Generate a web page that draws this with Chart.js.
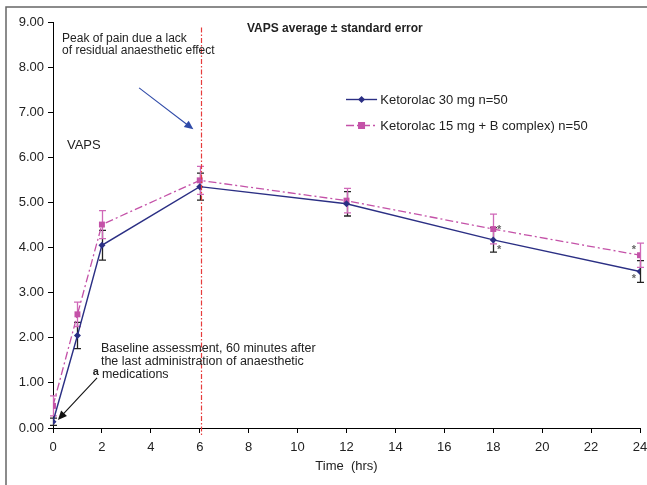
<!DOCTYPE html>
<html><head><meta charset="utf-8">
<script src="https://cdn.jsdelivr.net/npm/chart.js@4"></script>
<style>html,body{margin:0;padding:0;background:#fff;}</style>
</head><body>
<canvas id="c" width="647" height="485"></canvas>
<script>
// ---- data ----
const hours = [0, 1, 2, 6, 12, 18, 24];
const ketorolac30 = [0.14, 2.05, 4.05, 5.35, 4.97, 4.17, 3.47];
const ketorolac30Err = [0.08, 0.29, 0.33, 0.30, 0.27, 0.27, 0.24];
const ketorolac15B = [0.49, 2.52, 4.51, 5.49, 5.04, 4.41, 3.83];
const ketorolac15BErr = [0.22, 0.27, 0.31, 0.31, 0.27, 0.33, 0.27];
const seriesLabels = ['Ketorolac 30 mg n=50', 'Ketorolac 15 mg + B complex) n=50'];
const yTicks = [0, 1, 2, 3, 4, 5, 6, 7, 8, 9];
const xTicks = [0, 2, 4, 6, 8, 10, 12, 14, 16, 18, 20, 22, 24];
const peakHour = 6.05;
const significantHours = [18, 24];

const FONT = "'Liberation Sans', Arial, sans-serif";
const BLUE = '#2b2f84';
const PINK = '#c452a8';
const PEAK_RED = 'rgb(230, 60, 60)';

function toPts(vals){ return hours.map((h,i)=>({x:h, y:vals[i]})); }

const overlay = {
  id: 'overlay',
  beforeDatasetsDraw(chart){
    const {ctx, scales:{x, y}} = chart;
    const px = v => x.getPixelForValue(v), py = v => y.getPixelForValue(v);
    ctx.save();
    // error bars
    const drawErr = (vals, errs, color) => {
      ctx.strokeStyle = color; ctx.lineWidth = 1.3;
      hours.forEach((h,i)=>{
        const cx = Math.round(px(h)) + 0.5;
        const t = py(vals[i] + errs[i]), b = py(vals[i] - errs[i]);
        ctx.beginPath();
        ctx.moveTo(cx, t); ctx.lineTo(cx, b);
        ctx.moveTo(cx - 3.5, t); ctx.lineTo(cx + 3.5, t);
        ctx.moveTo(cx - 3.5, b); ctx.lineTo(cx + 3.5, b);
        ctx.stroke();
      });
    };
    drawErr(ketorolac30, ketorolac30Err, '#222');
    drawErr(ketorolac15B, ketorolac15BErr, '#d068b8');
    ctx.restore();
  },
  afterDatasetsDraw(chart){
    const {ctx, scales:{x, y}} = chart;
    const px = v => x.getPixelForValue(v), py = v => y.getPixelForValue(v);
    ctx.save();
    // peak vertical line
    ctx.strokeStyle = PEAK_RED;
    ctx.lineWidth = 1.2;
    ctx.setLineDash([5, 2, 1.5, 2]);
    ctx.beginPath();
    const lx = Math.round(px(peakHour)) + 0.5;
    ctx.moveTo(lx, py(8.88));
    ctx.lineTo(lx, py(0) + 8);
    ctx.stroke();
    ctx.restore();
  },
  afterDraw(chart){
    const {ctx, scales:{x, y}} = chart;
    const px = v => x.getPixelForValue(v), py = v => y.getPixelForValue(v);
    ctx.save();
    // outer frame
    ctx.strokeStyle = '#666'; ctx.lineWidth = 1.5;
    ctx.strokeRect(6, 7, 660, 500);

    ctx.fillStyle = '#222';
    ctx.textBaseline = 'alphabetic';
    ctx.textAlign = 'left';
    // title
    ctx.font = 'bold 12px ' + FONT;
    ctx.fillText('VAPS average \u00b1 standard error', px(7.93), py(8.78));
    // peak annotation
    ctx.font = '12px ' + FONT;
    ctx.fillText('Peak of pain due a lack', px(0.37), py(8.56));
    ctx.fillText('of residual anaesthetic effect', px(0.37), py(8.28));
    // VAPS label
    ctx.font = '13px ' + FONT;
    ctx.fillText('VAPS', px(0.57), py(6.18));
    // baseline annotation
    ctx.font = '12.5px ' + FONT;
    ctx.fillText('Baseline assessment, 60 minutes after', px(1.96), py(1.68));
    ctx.fillText('the last administration of anaesthetic', px(1.96), py(1.39));
    ctx.fillText('medications', px(2.0), py(1.10));
    ctx.font = 'bold 11px ' + FONT;
    ctx.fillText('a', px(1.63), py(1.17));

    // arrows
    const arrow = (x1,y1,x2,y2,color) => {
      const X1=px(x1), Y1=py(y1), X2=px(x2), Y2=py(y2);
      const ang = Math.atan2(Y2-Y1, X2-X1);
      ctx.strokeStyle = color; ctx.fillStyle = color; ctx.lineWidth = 1.1;
      ctx.beginPath(); ctx.moveTo(X1,Y1); ctx.lineTo(X2 - 6*Math.cos(ang), Y2 - 6*Math.sin(ang)); ctx.stroke();
      ctx.beginPath();
      ctx.moveTo(X2, Y2);
      ctx.lineTo(X2 - 9*Math.cos(ang) + 4*Math.sin(ang), Y2 - 9*Math.sin(ang) - 4*Math.cos(ang));
      ctx.lineTo(X2 - 9*Math.cos(ang) - 4*Math.sin(ang), Y2 - 9*Math.sin(ang) + 4*Math.cos(ang));
      ctx.closePath(); ctx.fill();
    };
    arrow(3.52, 7.54, 5.74, 6.62, '#2f4aa8');
    arrow(1.8, 1.11, 0.2, 0.18, '#111');

    // significance stars
    ctx.fillStyle = '#666';
    ctx.font = 'bold 11px ' + FONT;
    ctx.textAlign = 'center'; ctx.textBaseline = 'middle';
    const i18 = hours.indexOf(significantHours[0]), i24 = hours.indexOf(significantHours[1]);
    ctx.fillText('*', px(18) + 6, py(ketorolac30[i18]) + 10);
    ctx.fillText('*', px(18) + 6, py(ketorolac15B[i18]) + 1);
    ctx.fillText('*', px(24) - 6, py(ketorolac15B[i24]) - 5);
    ctx.fillText('*', px(24) - 6, py(ketorolac30[i24]) + 8);

    // legend
    const ds = chart.data.datasets;
    const lx1 = px(11.98), lx2 = px(13.25), lmid = (lx1+lx2)/2;
    const rows = [py(7.30), py(6.72)];
    ds.forEach((d, k) => {
      const ry = Math.round(rows[k]) + 0.5;
      ctx.strokeStyle = d.borderColor; ctx.lineWidth = d.borderWidth;
      ctx.setLineDash(d.borderDash || []);
      ctx.beginPath(); ctx.moveTo(lx1, ry); ctx.lineTo(lx2, ry); ctx.stroke();
      ctx.setLineDash([]);
      ctx.fillStyle = d.backgroundColor;
      if (d.pointStyle === 'rectRot') {
        ctx.beginPath(); ctx.moveTo(lmid, ry-3.5); ctx.lineTo(lmid+3.5, ry); ctx.lineTo(lmid, ry+3.5); ctx.lineTo(lmid-3.5, ry); ctx.closePath(); ctx.fill();
      } else {
        ctx.fillRect(lmid-3.5, ry-3.5, 7, 7);
      }
      ctx.fillStyle = '#222';
      ctx.font = '13px ' + FONT;
      ctx.textAlign = 'left'; ctx.textBaseline = 'middle';
      ctx.fillText(seriesLabels[k], px(13.38), ry + 1);
    });
    ctx.restore();
  }
};

new Chart(document.getElementById('c'), {
  type: 'line',
  data: {
    datasets: [
      { label: seriesLabels[0], data: toPts(ketorolac30), borderColor: BLUE, backgroundColor: BLUE,
        borderWidth: 1.4, pointStyle: 'rectRot', pointRadius: 3.5, pointBorderWidth: 0, tension: 0 },
      { label: seriesLabels[1], data: toPts(ketorolac15B), borderColor: PINK, backgroundColor: PINK,
        borderWidth: 1.3, borderDash: [8, 3, 2, 3], pointStyle: 'rect', pointRadius: 4.2, pointBorderWidth: 0, tension: 0 }
    ]
  },
  options: {
    responsive: false, animation: false,
    layout: { padding: { top: 22, right: 7, left: 0, bottom: 0 } },
    plugins: { legend: { display: false }, tooltip: { enabled: false } },
    scales: {
      x: {
        type: 'linear', min: 0, max: 24,
        afterBuildTicks: s => { s.ticks = xTicks.map(v => ({ value: v })); },
        ticks: { color: '#222', font: { family: FONT, size: 13 }, padding: 7, maxRotation: 0, autoSkip: false },
        grid: { drawOnChartArea: false, tickLength: 5, color: '#000' },
        border: { color: '#000', width: 1 },
        title: { display: true, text: 'Time  (hrs)', color: '#222', font: { family: FONT, size: 13 }, padding: { top: 4, bottom: 11 } },
        afterFit: s => { s.height = 57; s.paddingRight = 0; s.paddingLeft = 0; }
      },
      y: {
        min: 0, max: 9,
        afterBuildTicks: s => { s.ticks = yTicks.map(v => ({ value: v })); },
        ticks: { color: '#222', font: { family: FONT, size: 13 }, padding: 4, callback: v => Number(v).toFixed(2) },
        grid: { drawOnChartArea: false, tickLength: 5, color: '#000' },
        border: { color: '#000', width: 1 },
        afterFit: s => { s.width = 53; s.paddingTop = 0; s.paddingBottom = 0; }
      }
    }
  },
  plugins: [overlay]
});
</script>
</body></html>
